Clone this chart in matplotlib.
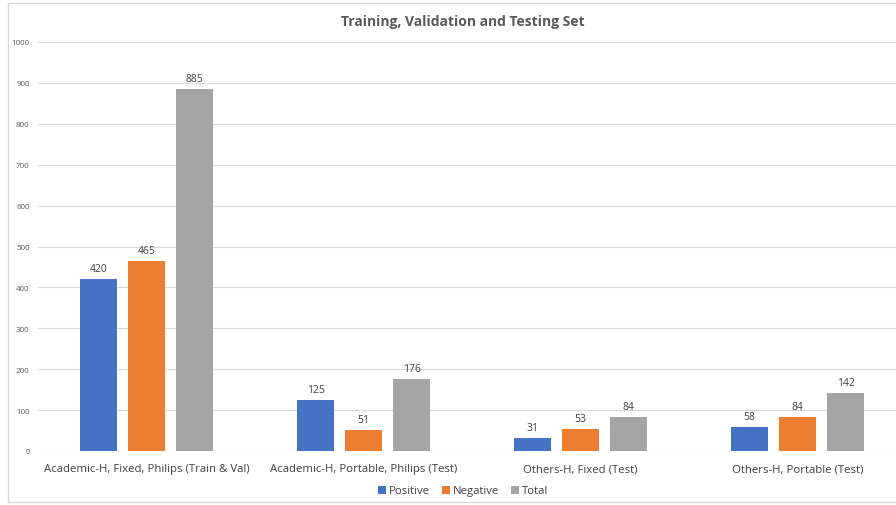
import matplotlib
matplotlib.use("Agg")
import matplotlib.pyplot as plt
import numpy as np
from matplotlib.patches import Rectangle

categories = ["Academic-H, Fixed, Philips (Train & Val)",
              "Academic-H, Portable, Philips (Test)",
              "Others-H, Fixed (Test)",
              "Others-H, Portable (Test)"]
positive = [420, 125, 31, 58]
negative = [465, 51, 53, 84]
total = [885, 176, 84, 142]
series_names = ["Positive", "Negative", "Total"]
colors = ["#4472C4", "#ED7D31", "#A5A5A5"]
yticks = [0, 100, 200, 300, 400, 500, 600, 700, 800, 900, 1000]

plt.rcParams['font.family'] = ['Open Sans', 'DejaVu Sans']

fig = plt.figure(figsize=(8.96, 5.06), dpi=100)
ax = fig.add_axes([38/896, 1-452/506, 868/896, (452-43)/506])

x = np.arange(len(categories))
w = 0.17
offs = [-0.221, 0, 0.221]
for vals, name, c, o in zip([positive, negative, total], series_names, colors, offs):
    bars = ax.bar(x + o, vals, w, color=c, label=name, zorder=3)
    for b, v in zip(bars, vals):
        ax.text(b.get_x() + b.get_width()/2, v + 12, str(v), ha='center', va='bottom',
                fontsize=7.5, color='#404040')

ax.set_xlim(-0.5, len(categories) - 0.5)
ax.set_ylim(0, 1000)
ax.set_yticks(yticks)
ax.set_yticklabels([str(t) for t in yticks], fontsize=5.8, color='#595959')
ax.set_xticks(x)
ax.set_xticklabels(categories, fontsize=8.2, color='#404040')
ax.tick_params(axis='both', length=0)
ax.tick_params(axis='y', pad=6)
ax.tick_params(axis='x', pad=9)
ax.grid(axis='y', color='#D9D9D9', linewidth=0.8, zorder=0)
for s in ax.spines.values():
    s.set_visible(False)

fig.text(463/896, 1-22/506, "Training, Validation and Testing Set", ha='center', va='center',
         fontsize=10, fontweight='bold', color='#595959')

handles, labels = ax.get_legend_handles_labels()
fig.legend(handles, labels, loc='center', bbox_to_anchor=(463/896, 1-492/506), ncol=3,
           frameon=False, fontsize=8.2, handlelength=0.7, handleheight=0.7,
           handletextpad=0.3, columnspacing=1.0, labelcolor='#404040')

fig.patches.append(Rectangle((8/896, 3/506), 1.0, 1-7/506, transform=fig.transFigure,
                             fill=False, edgecolor='#D9D9D9', linewidth=1.0))

fig.savefig("out.png", dpi=100)
